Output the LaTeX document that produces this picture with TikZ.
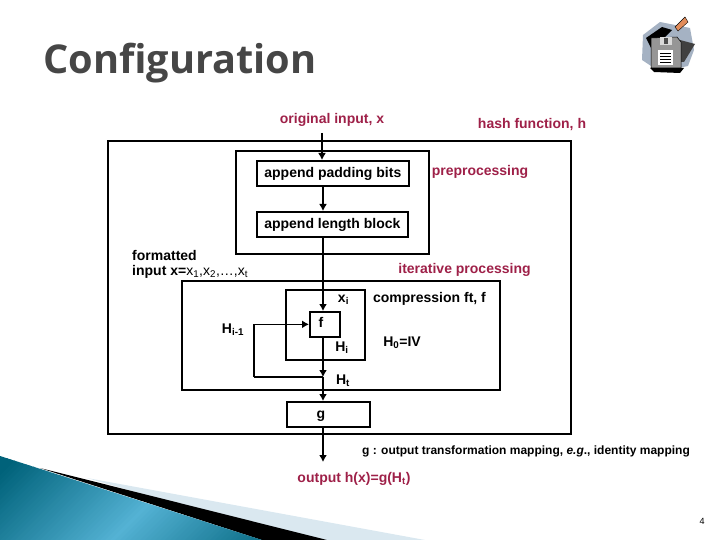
\documentclass[tikz,border=0pt]{standalone}
\usepackage{fontspec}
\setmainfont{Liberation Sans}
\newfontfamily\titlefont{Open Sans}
\usetikzlibrary{positioning,arrows.meta}
\definecolor{labelred}{RGB}{158,32,72}
\definecolor{titlegray}{RGB}{70,70,70}
\definecolor{tealdark}{RGB}{0,98,122}
\definecolor{teallight}{RGB}{84,178,212}
\definecolor{palewedge}{RGB}{218,232,240}
\definecolor{iconblue}{RGB}{165,178,195}
\definecolor{icongray}{RGB}{150,150,150}
\definecolor{iconorange}{RGB}{226,140,90}
\tikzset{
  frame/.style={draw,line width=1.7pt,inner sep=0pt,anchor=north west},
  textbox/.style={frame,text height=11.5pt,text depth=2.5pt,font=\bfseries\fontsize{14}{16}\selectfont},
  flow/.style={line width=1.7pt,-{Latex[length=7pt,width=8pt]}},
  plainline/.style={line width=1.7pt},
  redlabel/.style={inner sep=0pt,text=labelred,font=\bfseries\fontsize{14}{16}\selectfont},
  blacklabel/.style={inner sep=0pt,font=\bfseries\fontsize{14}{16}\selectfont},
  titlelabel/.style={inner sep=0pt,font=\titlefont\bfseries\fontsize{39.7}{45}\selectfont}
}
\begin{document}
\begin{tikzpicture}[x=1pt,y=-1pt]
\useasboundingbox (0,0) rectangle (720,540);
\fill[palewedge] (87,478)--(425,540)--(300,540)--cycle;
\fill[black] (40,468)--(327,540)--(262,540)--cycle;
\begin{scope}
\clip (0,456)--(262,540)--(0,540)--cycle;
\foreach \stripe in {-60,-55,...,320} {
  \pgfmathtruncatemacro{\mixed}{100*max(0,1-abs(\stripe-150)/180)}
  \fill[teallight!\mixed!tealdark] (\stripe+44,456)--(\stripe+50,456)--(\stripe-34,540)--(\stripe-40,540)--cycle;
}
\end{scope}
\node[titlelabel,text=titlegray] (title) at (180,63) {Configuration};
\fill[iconblue] (643,35)--(660,22)--(690,28)--(694,50)--(688,66)--(660,72)--(642,60)--cycle;
\fill[black] (646,38)--(662,27)--(672,30)--(652,50)--cycle;
\fill[black] (650,68)--(684,68)--(680,73)--(654,72)--cycle;
\fill[black!75] (680,40)--(695,44)--(684,62)--(680,62)--cycle;
\fill[icongray] (651,38)--(677,37)--(681,42)--(681,68)--(651,68)--cycle;
\draw[black,line width=.5pt] (651,38)--(677,37)--(681,42)--(681,68)--(651,68)--cycle;
\fill[gray!30] (660,37)--(672,37)--(672,45)--(660,45)--cycle;
\fill[black!70] (664,38) rectangle (668,44);
\fill[white] (658,50) rectangle (673,65);
\foreach \liney in {53,56,59,62} \draw[black,line width=.6pt] (660,\liney)--(671,\liney);
\fill[iconorange] (675,27)--(685,17)--(688,22)--(678,31)--cycle;
\draw[black,line width=.4pt] (675,27)--(685,17)--(688,22)--(678,31)--cycle;
\node[frame,minimum width=463pt,minimum height=293pt] (hashbox) at (107,140) {};
\node[frame,minimum width=193pt,minimum height=103pt] (prebox) at (235,150) {};
\node[frame,minimum width=318pt,minimum height=109pt] (iterbox) at (181,280) {};
\node[frame,minimum width=79pt,minimum height=70pt] (compbox) at (285,289) {};
\node[textbox,minimum width=152pt,minimum height=25pt] (padding) at (256,160) {append padding bits};
\node[textbox,minimum width=151pt,minimum height=25pt] (lengthblock) at (256,211) {append length block};
\node[textbox,text height=10pt,text depth=3pt,minimum width=30pt,minimum height=25pt] (fbox) at (309,311) {f\kern8pt};
\node[textbox,text height=10.5pt,text depth=2.5pt,minimum width=83pt,minimum height=25pt] (gbox) at (286,401) {g\kern15pt};
\coordinate (input) at (322,133);
\coordinate (joint) at (323,377);
\coordinate (feedback) at (254,377);
\coordinate (output) at (323,462);
\draw[flow] (input)--(input |- padding.north);
\draw[flow] (joint |- padding.south)--(joint |- lengthblock.north);
\draw[flow] (joint |- lengthblock.south)--(joint |- fbox.north);
\draw[flow] (joint |- fbox.south)--(joint);
\draw[flow] (joint)--(joint |- gbox.north);
\draw[flow] (joint |- gbox.south)--(output);
\draw[plainline] (joint)--(feedback);
\draw[flow] (feedback) |- (fbox.west);
\node[redlabel] (inputlabel) at (332,120) {original input, x};
\node[redlabel] (hashlabel) at (532,125) {hash function, h};
\node[redlabel] (prelabel) at (480,172) {preprocessing};
\node[redlabel] (iterlabel) at (464.5,270) {iterative processing};
\node[redlabel] (outputlabel) at (354,479) {output h(x)=g(H\textsubscript{t})};
\node[blacklabel,anchor=west] (formatted) at (132,255) {formatted};
\node[blacklabel,anchor=west] (inputx) at (132,272) {input x=\mdseries x\textsubscript{1},x\textsubscript{2},\dots,x\textsubscript{t}};
\node[blacklabel] (xi) at (343.5,300) {x\textsubscript{i}};
\node[blacklabel] (compresslabel) at (429.5,299) {compression ft, f};
\node[blacklabel] (hprev) at (233,330) {H\textsubscript{i-1}};
\node[blacklabel] (hi) at (342,348) {H\textsubscript{i}};
\node[blacklabel] (hzero) at (402,343) {H\textsubscript{0}=IV};
\node[blacklabel] (ht) at (343,381) {H\textsubscript{t}};
\node[inner sep=0pt,font=\bfseries\fontsize{12}{14}\selectfont] (glabel) at (526,451) {g : output transformation mapping, \textit{e.g}., identity mapping};
\node[inner sep=0pt,font=\fontsize{9}{11}\selectfont] (pagenum) at (702,521) {4};
\end{tikzpicture}
\end{document}
